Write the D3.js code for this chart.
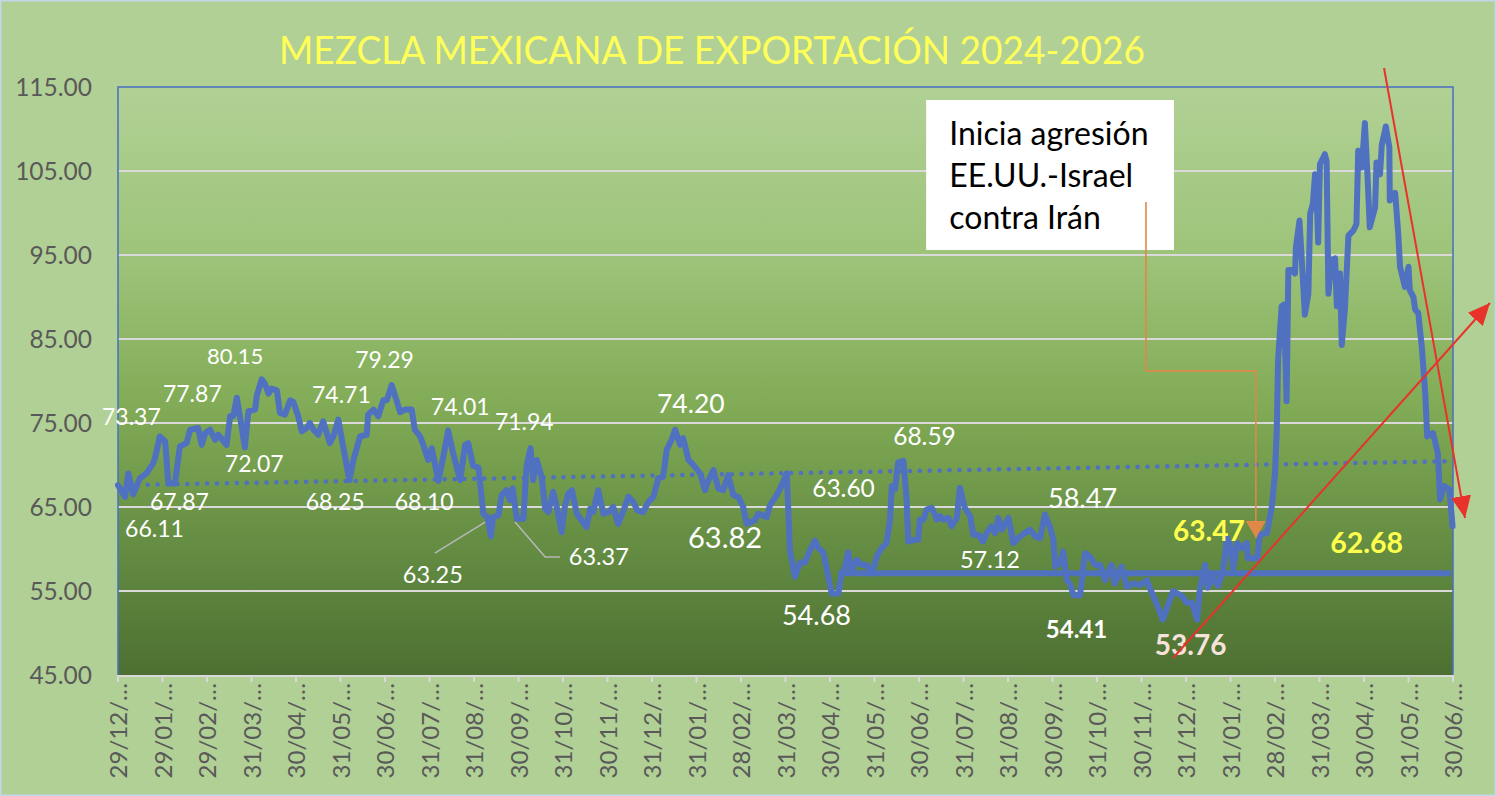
<!DOCTYPE html>
<html>
<head>
<meta charset="utf-8">
<script src="https://cdn.jsdelivr.net/npm/d3@7/dist/d3.min.js"></script>
<style>
  html, body { margin: 0; padding: 0; background: #b1d095; }
  svg { display: block; font-family: Lato, "Open Sans", sans-serif; }
</style>
</head>
<body>
<svg id="chart" width="1496" height="796"></svg>
<script>
// ---------- DATA ----------
const title = "MEZCLA MEXICANA DE EXPORTACIÓN 2024-2026";
const tickLabels = ["29/12/…","29/01/…","29/02/…","31/03/…","30/04/…","31/05/…","30/06/…","31/07/…","31/08/…","30/09/…","31/10/…","30/11/…","31/12/…","31/01/…","28/02/…","31/03/…","30/04/…","31/05/…","30/06/…","31/07/…","31/08/…","30/09/…","31/10/…","30/11/…","31/12/…","31/01/…","28/02/…","31/03/…","30/04/…","31/05/…","30/06/…"];
const yTicks = [45, 55, 65, 75, 85, 95, 105, 115];

// position along the date axis, in months from 29/12/2023
const monthPos = [0,0.16,0.23,0.34,0.49,0.64,0.79,0.83,0.94,1.06,1.13,1.28,1.39,1.54,1.62,1.80,1.88,1.96,2.07,2.18,2.25,2.44,2.52,2.59,2.67,2.74,2.85,2.93,3.08,3.12,3.23,3.30,3.38,3.45,3.57,3.64,3.75,3.87,3.94,4.05,4.13,4.24,4.31,4.39,4.50,4.61,4.76,4.84,4.95,5.06,5.20,5.29,5.44,5.59,5.62,5.74,5.85,5.96,6.04,6.15,6.26,6.34,6.45,6.60,6.67,6.79,6.86,6.97,7.05,7.20,7.31,7.42,7.53,7.69,7.80,7.87,7.98,8.10,8.21,8.30,8.38,8.43,8.55,8.62,8.73,8.81,8.87,8.96,9.11,9.18,9.27,9.33,9.41,9.52,9.60,9.67,9.78,9.86,9.97,10.04,10.12,10.20,10.31,10.42,10.53,10.61,10.68,10.79,10.91,11.02,11.13,11.24,11.36,11.47,11.58,11.67,11.80,11.92,12.03,12.14,12.25,12.33,12.44,12.52,12.63,12.70,12.82,12.93,13.08,13.19,13.27,13.38,13.49,13.60,13.71,13.83,13.94,14.05,14.13,14.31,14.39,14.58,14.65,14.80,14.88,15.03,15.10,15.21,15.33,15.44,15.51,15.66,15.74,15.85,15.96,16.04,16.19,16.26,16.31,16.41,16.49,16.60,16.71,16.82,16.94,17.05,17.16,17.27,17.35,17.39,17.46,17.53,17.65,17.72,17.76,17.91,17.98,18.02,18.10,18.17,18.29,18.40,18.47,18.55,18.66,18.73,18.85,18.92,19.03,19.15,19.22,19.33,19.44,19.52,19.63,19.71,19.78,19.86,20.01,20.12,20.27,20.38,20.49,20.61,20.72,20.83,20.94,21.02,21.06,21.17,21.24,21.32,21.39,21.47,21.62,21.73,21.84,21.96,22.07,22.18,22.33,22.40,22.55,22.67,22.82,22.97,23.12,23.19,23.30,23.48,23.71,23.91,24.02,24.13,24.25,24.31,24.43,24.49,24.61,24.72,24.83,24.92,24.99,25.06,25.15,25.26,25.37,25.39,25.60,25.66,25.82,25.93,26.00,26.04,26.07,26.15,26.20,26.26,26.30,26.37,26.45,26.47,26.55,26.62,26.67,26.75,26.79,26.85,26.90,26.94,26.97,27.01,27.12,27.16,27.20,27.27,27.35,27.39,27.46,27.50,27.57,27.65,27.76,27.83,27.87,27.95,28.02,28.07,28.13,28.25,28.28,28.36,28.40,28.49,28.57,28.58,28.70,28.77,28.81,28.92,29.00,29.03,29.11,29.15,29.22,29.30,29.38,29.42,29.55,29.66,29.71,29.80,29.92,29.99];
const price = [67.6,66.2,69.0,66.5,68.4,69.0,70.2,70.8,73.4,72.8,67.8,67.8,72.2,72.6,74.2,74.4,72.4,73.8,74.2,73.0,73.6,72.4,75.8,75.8,78.0,75.8,72.1,76.4,76.6,78.3,80.2,79.7,78.5,79.1,78.9,76.2,76.0,77.7,77.5,75.8,74.0,74.4,75.0,74.2,73.6,75.2,72.6,73.4,75.4,72.2,68.2,70.6,73.4,73.6,76.0,76.6,75.8,77.7,77.7,79.5,77.7,76.3,76.6,76.6,74.2,73.4,72.4,70.6,72.0,68.1,71.0,74.1,71.4,68.2,72.4,72.6,69.9,69.7,64.2,63.8,61.5,63.8,64.0,66.4,67.0,65.8,67.2,63.6,63.6,69.8,72.0,68.2,70.6,68.6,64.8,64.4,66.8,65.0,62.0,65.0,66.6,67.0,64.2,63.4,62.6,64.8,64.4,67.0,64.2,64.4,65.0,63.0,64.6,66.2,65.6,64.6,64.4,65.6,66.2,68.4,68.6,71.8,73.0,74.2,72.4,73.2,70.6,70.0,69.0,67.0,68.2,69.4,67.2,67.0,68.8,66.4,66.2,65.0,63.0,63.4,64.2,63.8,65.2,66.4,67.2,69.0,59.8,56.7,58.4,58.4,59.4,61.0,60.1,59.6,56.7,54.7,54.7,57.3,57.3,59.6,57.3,58.7,58.1,58.1,57.1,59.1,60.1,60.7,63.5,67.5,67.1,70.3,70.5,65.9,60.9,61.1,61.1,63.5,63.5,64.7,64.9,63.5,63.9,63.5,63.7,62.7,63.7,67.3,64.9,63.9,61.7,61.7,60.9,61.9,62.7,61.9,63.7,62.3,63.7,60.7,61.5,61.9,62.3,61.5,61.3,64.1,62.7,61.1,57.9,58.3,59.7,56.3,55.9,54.5,54.5,59.5,59.1,58.1,58.1,56.3,58.1,55.9,57.9,55.5,55.9,55.7,56.3,55.3,54.0,51.6,55.0,54.4,53.6,53.6,51.6,55.2,58.1,55.4,56.7,55.6,57.3,61.3,60.5,57.7,60.7,60.1,60.7,58.9,58.9,61.7,61.9,65.1,69.0,74.2,82.6,88.9,89.1,77.6,93.2,93.2,92.8,95.9,99.1,92.8,87.9,90.4,99.9,101.1,104.6,101.5,96.5,105.8,107.0,106.2,90.4,94.4,94.6,88.9,92.8,84.3,88.5,97.3,97.9,98.7,107.4,105.4,110.7,105.4,98.3,100.7,106.0,104.6,108.1,110.3,107.8,101.5,102.4,97.5,93.6,91.2,93.6,90.8,90.0,88.5,88.1,84.0,78.2,73.4,73.8,71.4,65.9,67.5,67.1,62.7];

// linear trend (start / end) and reference level
const trendPos = [0, 30];
const trendVal = [67.6, 70.45];
const flatPos = [16.26, 29.95];
const flatVal = 57.12;

// data labels: text, anchor (month, value), size, weight, colour
const labelText = ["73.37","77.87","80.15","72.07","67.87","66.11","74.71","79.29","68.25","68.10","74.01","71.94","74.20","63.25","63.37","63.82","63.60","54.68","68.59","58.47","57.12","54.41","53.76","63.47","62.68"];
const labelPos  = [-0.36,1.01,2.0,2.40,0.72,0.16,4.36,5.33,4.22,6.22,7.03,8.47,12.11,6.40,10.13,12.81,15.60,14.92,17.42,20.90,18.92,20.85,23.30,23.71,27.24];
const labelVal  = [74.76,77.5,82.02,69.17,64.64,61.43,77.38,81.55,64.64,64.64,75.95,74.17,76.19,55.95,58.1,60.12,66.19,50.95,72.38,64.88,57.74,49.4,47.38,60.95,59.52];
const labelSize = [23,23,22,23,23,23,23,23,23,23,23,23,26.5,23.5,23.5,29,24.5,27,24.5,27,23.5,24,28,28,28.5];
const labelBold = [0,0,0,0,0,0,0,0,0,0,0,0,0,0,0,0,0,0,0,0,0,1,1,1,1];
const labelColor= ["#fff","#fff","#fff","#fff","#fff","#fff","#fff","#fff","#fff","#fff","#fff","#fff","#fff","#fff","#fff","#fff","#fff","#fff","#fff","#fff","#fff","#fff","#f6e4dc","#ffff4d","#ffff4d"];

const noteLines = ["Inicia agresión", "EE.UU.-Israel", "contra Irán"];

// ---------- CHART ----------
const svg = d3.select("#chart");
const W = 1496, H = 796;
const plot = {left: 118, right: 1453, top: 87, bottom: 675};

const x = d3.scaleLinear().domain([0, 30]).range([plot.left, plot.right]);
const y = d3.scaleLinear().domain([45, 115]).range([plot.bottom, plot.top]);

const defs = svg.append("defs");
const grad = defs.append("linearGradient").attr("id", "plotGrad")
  .attr("x1", 0).attr("y1", 0).attr("x2", 0).attr("y2", 1);
grad.append("stop").attr("offset", "0%").attr("stop-color", "#b1d195");
grad.append("stop").attr("offset", "30%").attr("stop-color", "#9cc378");
grad.append("stop").attr("offset", "55%").attr("stop-color", "#80aa55");
grad.append("stop").attr("offset", "80%").attr("stop-color", "#628a41");
grad.append("stop").attr("offset", "100%").attr("stop-color", "#4d7032");

const mk = (id, color, w, h) => {
  const m = defs.append("marker").attr("id", id)
    .attr("viewBox", `0 0 ${w} ${h}`).attr("refX", w).attr("refY", h / 2)
    .attr("markerWidth", w).attr("markerHeight", h)
    .attr("markerUnits", "userSpaceOnUse").attr("orient", "auto");
  m.append("path").attr("d", `M0,0 L${w},${h/2} L0,${h} Z`).attr("fill", color);
};
mk("redHead", "#e8332b", 22, 20);
mk("orangeHead", "#e0874a", 17, 20);

// background
svg.append("rect").attr("x", 0.75).attr("y", 0.75).attr("width", W - 1.5).attr("height", H - 1.5)
  .attr("fill", "#b1d095").attr("stroke", "#c3d5e8").attr("stroke-width", 1.5);

// plot area
svg.append("rect").attr("x", plot.left).attr("y", plot.top)
  .attr("width", plot.right - plot.left).attr("height", plot.bottom - plot.top)
  .attr("fill", "url(#plotGrad)");

// gridlines
svg.append("g").selectAll("line").data(yTicks.filter(d => d > 45 && d < 115)).join("line")
  .attr("x1", plot.left).attr("x2", plot.right)
  .attr("y1", d => y(d)).attr("y2", d => y(d))
  .attr("stroke", "#d9d9d9").attr("stroke-width", 2);

// plot border
svg.append("path")
  .attr("d", `M${plot.left},${plot.bottom} V${plot.top} H${plot.right} V${plot.bottom}`)
  .attr("fill", "none").attr("stroke", "#4a6fc0").attr("stroke-width", 1.5);

// y axis labels
svg.append("g").selectAll("text").data(yTicks).join("text")
  .attr("x", 92).attr("y", d => y(d)).attr("dy", "0.35em")
  .attr("text-anchor", "end").attr("fill", "#595959")
  .attr("font-size", 24.5).text(d => d.toFixed(2));

// x axis
const xAxis = svg.append("g");
xAxis.append("line").attr("x1", plot.left).attr("x2", plot.right)
  .attr("y1", plot.bottom + 1).attr("y2", plot.bottom + 1)
  .attr("stroke", "#d9d9d9").attr("stroke-width", 2);
xAxis.selectAll("line.tick").data(tickLabels).join("line").attr("class", "tick")
  .attr("x1", (d, i) => x(i)).attr("x2", (d, i) => x(i))
  .attr("y1", plot.bottom).attr("y2", plot.bottom + 7)
  .attr("stroke", "#d9d9d9").attr("stroke-width", 2);
xAxis.selectAll("text").data(tickLabels).join("text")
  .attr("transform", (d, i) => `translate(${x(i) + 9},${plot.bottom + 8}) rotate(-90)`)
  .attr("text-anchor", "end").attr("fill", "#595959")
  .attr("font-size", 24).text(d => d);

// title
svg.append("text").attr("x", 279).attr("y", 64)
  .attr("fill", "#ffff59").attr("font-size", 39)
  .attr("textLength", 866).attr("lengthAdjust", "spacingAndGlyphs")
  .text(title);

// trend line (dotted)
svg.append("path")
  .attr("d", d3.line()(trendPos.map((p, i) => [x(p), y(trendVal[i])])))
  .attr("fill", "none").attr("stroke", "#4f71bf").attr("stroke-width", 4.5)
  .attr("stroke-linecap", "round").attr("stroke-dasharray", "0.1 9.8");

// flat reference line
svg.append("path")
  .attr("d", d3.line()(flatPos.map(p => [x(p), y(flatVal)])))
  .attr("fill", "none").attr("stroke", "#4f71bf").attr("stroke-width", 6);

// price series
const series = monthPos.map((p, i) => [p, price[i]]);
svg.append("path")
  .attr("d", d3.line().x(d => x(d[0])).y(d => y(d[1]))(series))
  .attr("fill", "none").attr("stroke", "#4f71bf").attr("stroke-width", 6)
  .attr("stroke-linejoin", "round").attr("stroke-linecap", "round");

// leader lines
const lead = d3.line().x(d => x(d[0])).y(d => y(d[1]));
svg.append("path").attr("d", lead([[7.12, 59.52], [8.25, 63.21]]))
  .attr("fill", "none").attr("stroke", "#b8b8b8").attr("stroke-width", 1.5);
svg.append("path").attr("d", lead([[8.92, 63.21], [9.60, 59.05], [9.93, 59.05]]))
  .attr("fill", "none").attr("stroke", "#b8b8b8").attr("stroke-width", 1.5);

// data labels
svg.append("g").selectAll("text").data(labelText).join("text")
  .attr("x", (d, i) => x(labelPos[i])).attr("y", (d, i) => y(labelVal[i]))
  .attr("fill", (d, i) => labelColor[i])
  .attr("font-size", (d, i) => labelSize[i])
  .attr("font-weight", (d, i) => labelBold[i] ? 700 : 400)
  .text(d => d);

// annotation box
svg.append("rect").attr("x", x(18.16)).attr("y", y(113.45))
  .attr("width", x(23.73) - x(18.16)).attr("height", y(95.6) - y(113.45))
  .attr("fill", "#ffffff");
svg.append("g").selectAll("text").data(noteLines).join("text")
  .attr("x", x(18.68)).attr("y", (d, i) => y(108.1) + i * 42)
  .attr("fill", "#000").attr("font-size", 32).text(d => d);

// orange connector
svg.append("path")
  .attr("d", lead([[23.1, 101.3], [23.1, 81.2], [25.57, 81.2], [25.57, 61.3]]))
  .attr("fill", "none").attr("stroke", "#e0874a").attr("stroke-width", 1.6)
  .attr("marker-end", "url(#orangeHead)");

// red arrows
svg.append("path").attr("d", lead([[28.45, 117.26], [30.27, 63.69]]))
  .attr("fill", "none").attr("stroke", "#e8332b").attr("stroke-width", 2)
  .attr("marker-end", "url(#redHead)");
svg.append("path").attr("d", lead([[23.71, 47.02], [30.83, 89.29]]))
  .attr("fill", "none").attr("stroke", "#e8332b").attr("stroke-width", 2)
  .attr("marker-end", "url(#redHead)");
</script>
</body>
</html>
